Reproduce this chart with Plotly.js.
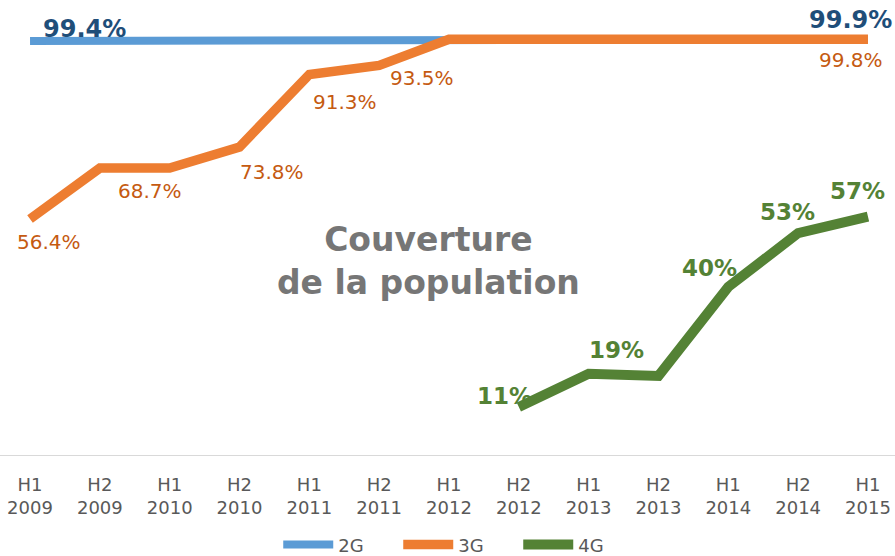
<!DOCTYPE html>
<html>
<head>
<meta charset="utf-8">
<script src="https://cdn.plot.ly/plotly-3.0.1.min.js"></script>
<style>html,body{margin:0;padding:0;background:#fff;}#chart{width:895px;height:556px;}</style>
</head>
<body>
<div id="chart"></div>
<script>
// ---- data ----
const categories = ['H1<br>2009','H2<br>2009','H1<br>2010','H2<br>2010','H1<br>2011','H2<br>2011','H1<br>2012','H2<br>2012','H1<br>2013','H2<br>2013','H1<br>2014','H2<br>2014','H1<br>2015'];
const cov2G = [99.4, 99.4, 99.4, 99.4, 99.4, 99.4, 99.5, 99.6, 99.7, 99.7, 99.8, 99.8, 99.9];
const cov3G = [56.4, 68.7, 68.7, 73.8, 91.3, 93.5, 99.8, 99.8, 99.8, 99.8, 99.8, 99.8, 99.8];
const cov4G = [null, null, null, null, null, null, null, 11, 19, 18.5, 40, 53, 57];
const seriesNames = ['2G', '3G', '4G'];
const titleText = 'Couverture<br>de la population';

// ---- styles / label placement ----
const lineColors = ['#5B9BD5', '#ED7D31', '#548235'];
const lineWidths = [8, 9.5, 10];
const labelColors = ['#1F4E79', '#C55A11', '#548235'];
const labelPlacement = [
  {s: 0, i: 0, dx: 54, dy: -12}, {s: 0, i: 12, dx: -17, dy: -19},
  {s: 1, i: 0, dx: 19, dy: 23}, {s: 1, i: 2, dx: -20, dy: 23}, {s: 1, i: 3, dx: 32, dy: 25},
  {s: 1, i: 4, dx: 36, dy: 27}, {s: 1, i: 5, dx: 43, dy: 13}, {s: 1, i: 12, dx: -17, dy: 21},
  {s: 2, i: 7, dx: -14, dy: -11}, {s: 2, i: 8, dx: 28, dy: -24}, {s: 2, i: 10, dx: -19, dy: -19},
  {s: 2, i: 11, dx: -11, dy: -21}, {s: 2, i: 12, dx: -10, dy: -26}
];

const allSeries = [cov2G, cov3G, cov4G];
const traces = allSeries.map((vals, k) => ({
  type: 'scatter', mode: 'lines', name: seriesNames[k],
  x: categories, y: vals, connectgaps: false,
  line: {color: lineColors[k], width: lineWidths[k]},
  hoverinfo: 'skip'
}));

function fmt(s, v) { return s === 2 ? Math.round(v) + '%' : v.toFixed(1) + '%'; }
const annotations = labelPlacement.map(p => ({
  x: categories[p.i], y: allSeries[p.s][p.i], xref: 'x', yref: 'y',
  text: fmt(p.s, allSeries[p.s][p.i]), showarrow: false,
  xanchor: 'center', yanchor: 'middle', xshift: p.dx, yshift: -p.dy,
  font: p.s === 1 ? {family: 'DejaVu Sans', size: 20, color: labelColors[1]}
                  : {family: 'DejaVu Sans', size: p.s === 0 ? 24 : 23, color: labelColors[p.s], weight: 'bold'}
}));
annotations.push({
  xref: 'paper', yref: 'paper', x: 428/895, y: 0.426, text: titleText, showarrow: false,
  xanchor: 'center', yanchor: 'middle', align: 'center',
  font: {family: 'DejaVu Sans', size: 33, color: '#767676', weight: 'bold'}
});

const layout = {
  width: 895, height: 556,
  margin: {l: 0, r: 0, t: 0, b: 101},
  paper_bgcolor: '#fff', plot_bgcolor: '#fff',
  showlegend: true,
  legend: {orientation: 'h', xref: 'container', yref: 'container', x: 0.512, y: 0.02,
           xanchor: 'center', yanchor: 'middle', itemwidth: 50,
           entrywidth: 55, entrywidthmode: 'pixels',
           font: {family: 'DejaVu Sans', size: 18, color: '#595959'}},
  xaxis: {type: 'category', range: [-0.43, 12.387], showgrid: false, zeroline: false,
          showline: true, linecolor: '#D9D9D9', linewidth: 1, ticks: '',
          ticklabelstandoff: 13,
          tickfont: {family: 'DejaVu Sans', size: 18, color: '#595959'}, fixedrange: true},
  yaxis: {range: [-0.6, 109.3], showgrid: false, zeroline: false, showticklabels: false,
          showline: false, fixedrange: true},
  annotations: annotations
};

Plotly.newPlot('chart', traces, layout, {displayModeBar: false, staticPlot: true});
</script>
</body>
</html>
